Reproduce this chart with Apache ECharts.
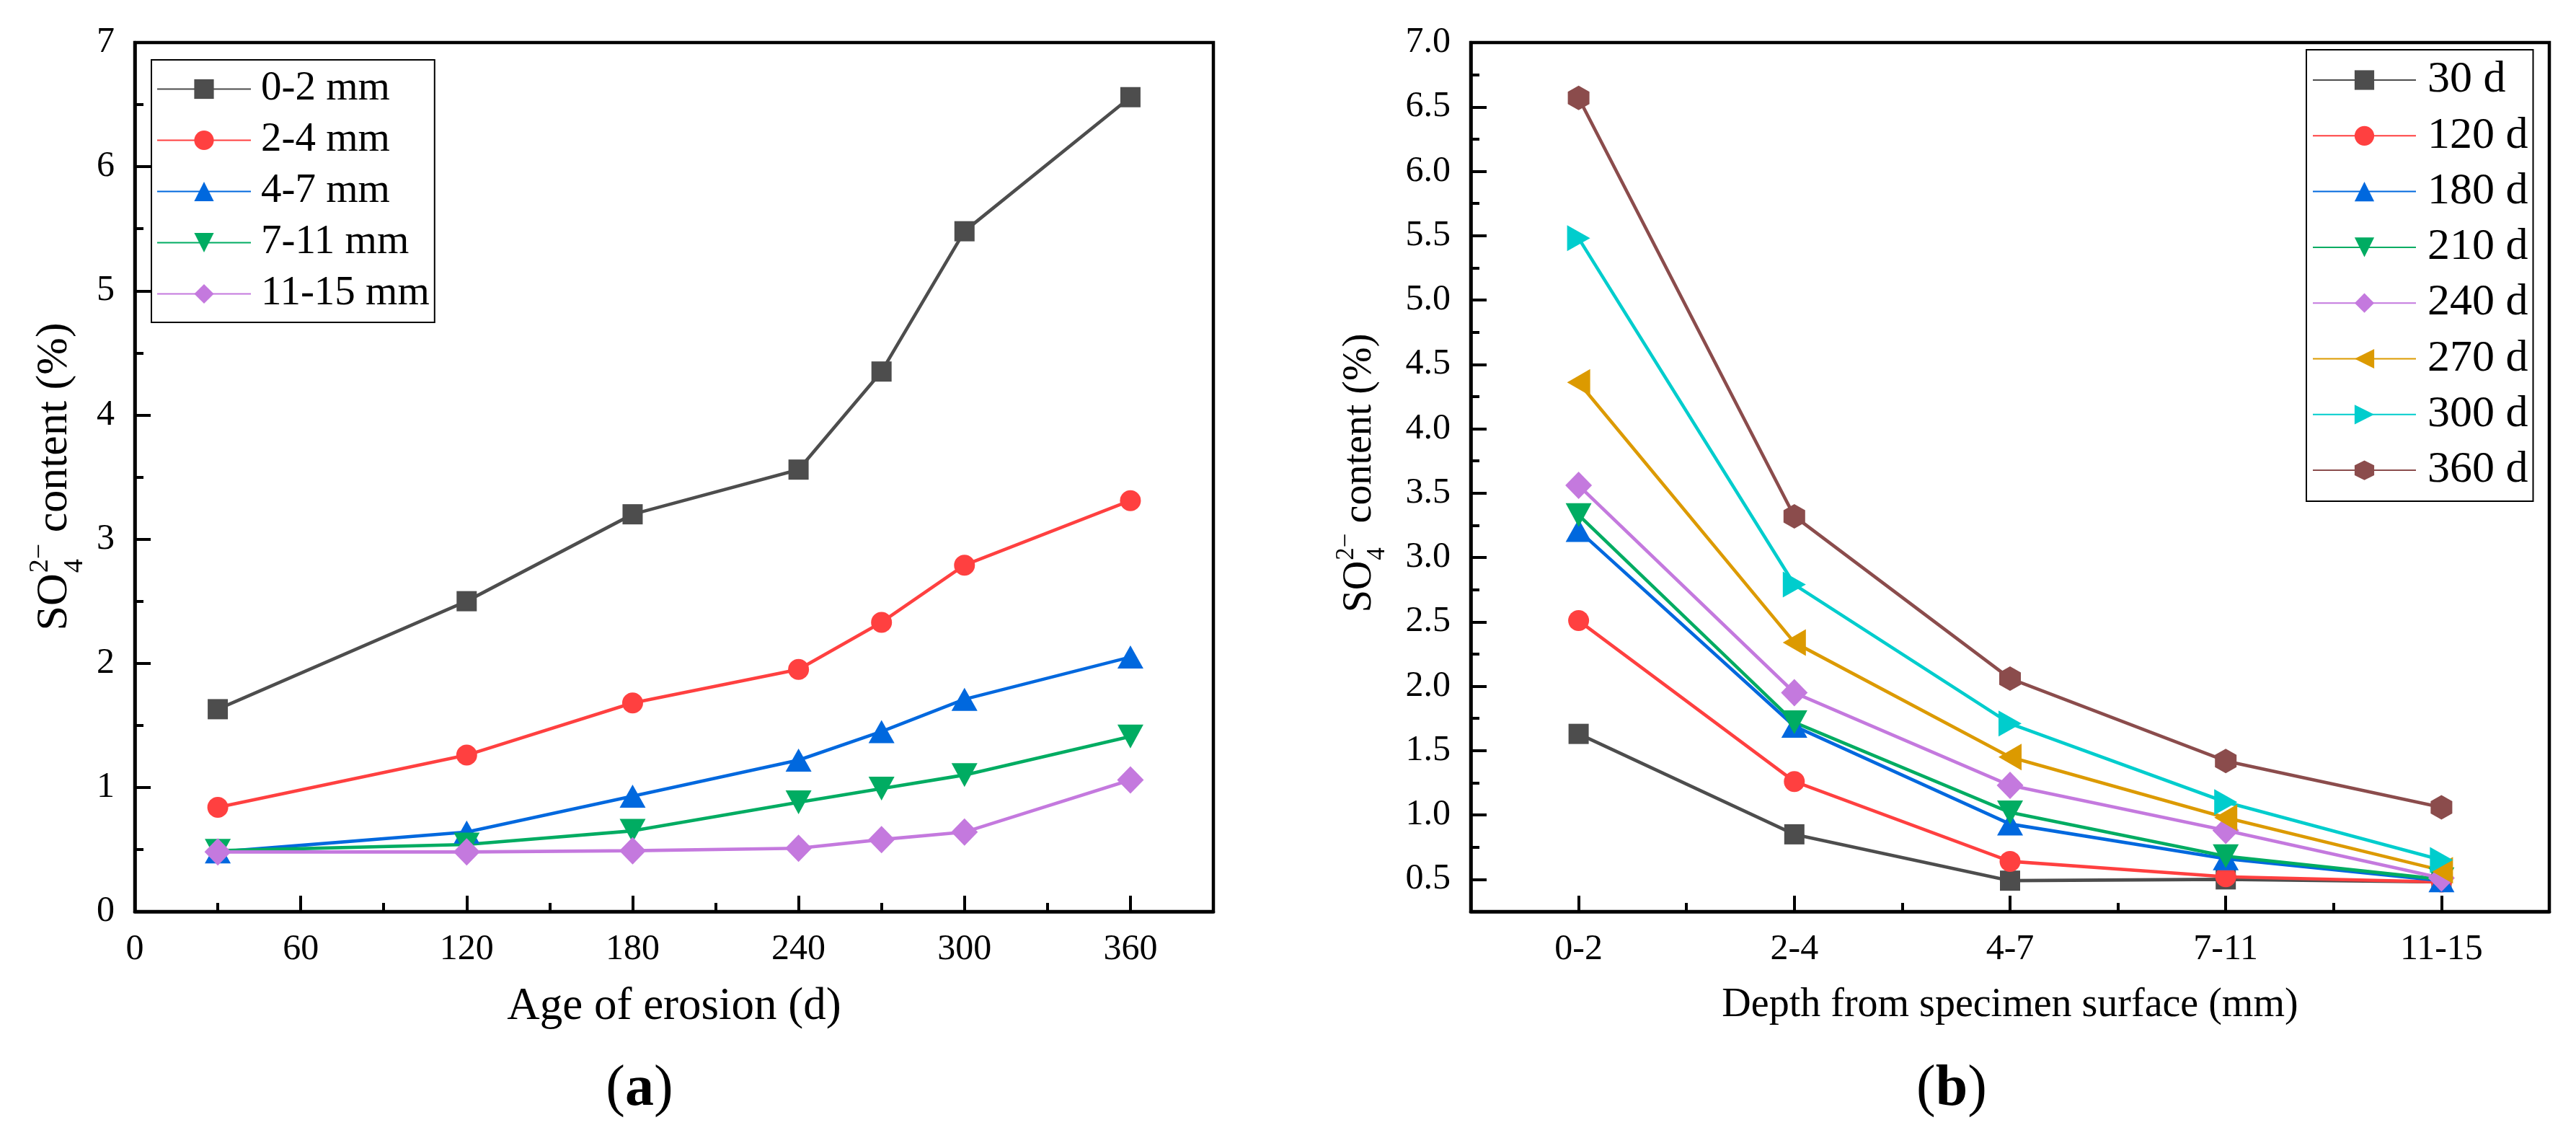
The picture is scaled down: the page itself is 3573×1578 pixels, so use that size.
<!DOCTYPE html>
<html>
<head>
<meta charset="utf-8">
<script src="https://cdn.jsdelivr.net/npm/echarts@6/dist/echarts.min.js"></script>
<style>
  html, body { margin: 0; padding: 0; background: #fff; }
  #chart { width: 3573px; height: 1578px; }
</style>
</head>
<body>
<div id="chart"></div>
<script>
// ---------- Data: panel (a) ----------
const ageDays = [30, 120, 180, 240, 270, 300, 360];
const depthNames = ['0-2 mm', '2-4 mm', '4-7 mm', '7-11 mm', '11-15 mm'];
const depth0_2 = [1.63, 2.50, 3.20, 3.56, 4.35, 5.48, 6.56];
const depth2_4 = [0.84, 1.26, 1.68, 1.95, 2.33, 2.79, 3.31];
const depth4_7 = [0.48, 0.64, 0.93, 1.22, 1.45, 1.71, 2.05];
const depth7_11 = [0.49, 0.54, 0.65, 0.88, 0.99, 1.10, 1.41];
const depth11_15 = [0.48, 0.48, 0.49, 0.51, 0.58, 0.64, 1.06];
const ageTickLabels = [0, 60, 120, 180, 240, 300, 360];

// ---------- Data: panel (b) ----------
const depthCats = ['0-2', '2-4', '4-7', '7-11', '11-15'];
const dayNames = ['30 d', '120 d', '180 d', '210 d', '240 d', '270 d', '300 d', '360 d'];
const day30 = [1.63, 0.85, 0.49, 0.50, 0.48];
const day120 = [2.51, 1.26, 0.64, 0.52, 0.48];
const day180 = [3.21, 1.69, 0.93, 0.66, 0.49];
const day210 = [3.33, 1.72, 1.02, 0.68, 0.50];
const day240 = [3.56, 1.95, 1.23, 0.88, 0.51];
const day270 = [4.36, 2.34, 1.45, 0.98, 0.57];
const day300 = [5.48, 2.79, 1.71, 1.10, 0.65];
const day360 = [6.57, 3.32, 2.06, 1.42, 1.06];
const contentTicksB = [0.5, 1.0, 1.5, 2.0, 2.5, 3.0, 3.5, 4.0, 4.5, 5.0, 5.5, 6.0, 6.5, 7.0];

// ---------- Styles ----------
const FONT = '"Liberation Serif", "Times New Roman", serif';
const COLORS = ['#4d4d4d', '#ff4040', '#0068de', '#00ac62', '#c479de', '#dc9a00', '#00cdcd', '#8b4c4c'];
const SYMBOLS = [
  { s: 'rect', size: 28 },
  { s: 'circle', size: 29 },
  { s: 'triangle', size: [36, 32] },
  { s: 'path://M0,0L10,0L5,10Z', size: [36, 33] },
  { s: 'diamond', size: [37, 38] },
  { s: 'path://M0,5L10,0L10,10Z', size: [32, 37] },
  { s: 'path://M10,5L0,0L0,10Z', size: [32, 36] },
  { s: 'path://M5,0L9.33,2.5L9.33,7.5L5,10L0.67,7.5L0.67,2.5Z', size: [30, 34] }
];
const AX = '#000';
const LW = 4.6;

const gridA = { left: 187, top: 59, width: 1496, height: 1205 };
const gridB = { left: 2040, top: 59, width: 1496, height: 1205 };

function lineSeries(name, data, i, xi, yi) {
  return {
    type: 'line', name: name, data: data,
    xAxisIndex: xi, yAxisIndex: yi,
    symbol: SYMBOLS[i].s, symbolSize: SYMBOLS[i].size,
    showAllSymbol: true,
    lineStyle: { color: COLORS[i], width: LW },
    itemStyle: { color: COLORS[i] },
    emphasis: { disabled: true },
    animation: false
  };
}

const seriesA = [depth0_2, depth2_4, depth4_7, depth7_11, depth11_15].map((vals, i) =>
  lineSeries(depthNames[i], ageDays.map((d, k) => [d, vals[k]]), i, 0, 0));
const seriesB = [day30, day120, day180, day210, day240, day270, day300, day360].map((vals, i) =>
  lineSeries(dayNames[i], vals, i, 2, 1));

// ---------- Y-axis titles (SO4 2- content (%)) built from text pieces ----------
const mctx = document.createElement('canvas').getContext('2d');
function tw(t, size) { mctx.font = size + 'px ' + FONT; return mctx.measureText(t).width; }
function yTitle(cx, cy, F, f, subOff, supOff) {
  const wSO = tw('SO', F);
  const xs = wSO + 1;
  const wss = Math.max(tw('4', f), tw('2\u2212', f));
  const xr = xs + wss;
  const rest = ' content (%)';
  const total = xr + tw(rest, F);
  const base = { fill: '#000', fontFamily: FONT, verticalAlign: 'middle', align: 'left' };
  return {
    type: 'group', x: cx, y: cy + total / 2, rotation: Math.PI / 2, silent: true,
    children: [
      { type: 'text', x: 0, y: 0, style: Object.assign({ text: 'SO', fontSize: F }, base) },
      { type: 'text', x: xs, y: subOff, style: Object.assign({ text: '4', fontSize: f }, base) },
      { type: 'text', x: xs, y: supOff, style: Object.assign({ text: '2\u2212', fontSize: f }, base) },
      { type: 'text', x: xr, y: 0, style: Object.assign({ text: rest, fontSize: F }, base) }
    ]
  };
}
function panelLabel(cx, cy, letter) {
  return {
    type: 'text', x: cx, y: cy, silent: true,
    style: {
      text: '{p|(}{b|' + letter + '}{p|)}',
      align: 'center', verticalAlign: 'middle',
      rich: {
        p: { fontFamily: FONT, fontSize: 80, fill: '#000', color: '#000' },
        b: { fontFamily: FONT, fontSize: 80, fontWeight: 'bold', fill: '#000', color: '#000' }
      }
    }
  };
}

const tickLabel = { fontFamily: FONT, fontSize: 50, color: '#000' };

const option = {
  backgroundColor: '#fff',
  animation: false,
  textStyle: { fontFamily: FONT, color: '#000' },
  grid: [
    Object.assign({ show: true, borderColor: AX, borderWidth: 4.5, backgroundColor: 'transparent' }, gridA),
    Object.assign({ show: true, borderColor: AX, borderWidth: 4.5, backgroundColor: 'transparent' }, gridB)
  ],
  xAxis: [
    { // (a) main
      type: 'value', gridIndex: 0, position: 'bottom', min: 0, max: 390, interval: 60,
      axisLine: { show: true, onZero: false, lineStyle: { color: AX, width: 4.5 } },
      axisTick: { show: true, inside: true, length: 22, lineStyle: { color: AX, width: 4 } },
      axisLabel: Object.assign({ margin: 28, formatter: v => (ageTickLabels.indexOf(v) >= 0 ? String(v) : '') }, tickLabel),
      splitLine: { show: false },
      name: 'Age of erosion (d)', nameLocation: 'middle', nameGap: 101,
      nameTextStyle: { fontFamily: FONT, fontSize: 63, color: '#000' }
    },
    { // (a) minor ticks
      type: 'value', gridIndex: 0, position: 'bottom', min: 0, max: 390, interval: 30,
      axisLine: { show: false, onZero: false },
      axisTick: { show: true, inside: true, length: 12, lineStyle: { color: AX, width: 4 } },
      axisLabel: { show: false }, splitLine: { show: false }
    },
    { // (b) main
      type: 'category', gridIndex: 1, position: 'bottom', data: depthCats, boundaryGap: true,
      axisLine: { show: true, onZero: false, lineStyle: { color: AX, width: 4.5 } },
      axisTick: { show: true, inside: true, alignWithLabel: true, length: 22, lineStyle: { color: AX, width: 4 } },
      axisLabel: Object.assign({ margin: 28, interval: 0 }, tickLabel),
      splitLine: { show: false },
      name: 'Depth from specimen surface (mm)', nameLocation: 'middle', nameGap: 102,
      nameTextStyle: { fontFamily: FONT, fontSize: 56, color: '#000' }
    },
    { // (b) minor ticks between categories
      type: 'category', gridIndex: 1, position: 'bottom', data: depthCats, boundaryGap: true,
      axisLine: { show: false, onZero: false },
      axisTick: { show: true, inside: true, alignWithLabel: false, interval: 0, length: 12, lineStyle: { color: AX, width: 4 } },
      axisLabel: { show: false }, splitLine: { show: false }
    }
  ],
  yAxis: [
    { // (a)
      type: 'value', gridIndex: 0, position: 'left', min: 0, max: 7, interval: 1,
      axisLine: { show: true, onZero: false, lineStyle: { color: AX, width: 4.5 } },
      axisTick: { show: true, inside: true, length: 22, lineStyle: { color: AX, width: 4 } },
      minorTick: { show: true, splitNumber: 2, length: 12, lineStyle: { color: AX, width: 4 } },
      axisLabel: Object.assign({ margin: 28 }, tickLabel),
      splitLine: { show: false }, minorSplitLine: { show: false }
    },
    { // (b) main: short ticks every 0.25, labels on 0.5 steps
      type: 'value', gridIndex: 1, position: 'left', min: 0.25, max: 7, interval: 0.25,
      axisLine: { show: true, onZero: false, lineStyle: { color: AX, width: 4.5 } },
      axisTick: { show: true, inside: true, length: 12, lineStyle: { color: AX, width: 4 } },
      axisLabel: Object.assign({
        margin: 28, showMinLabel: true, showMaxLabel: true,
        formatter: v => {
          const r = Math.round(v * 10) / 10;
          return contentTicksB.some(t => Math.abs(t - v) < 1e-6) ? r.toFixed(1) : '';
        }
      }, tickLabel),
      splitLine: { show: false }
    },
    { // (b) major ticks
      type: 'value', gridIndex: 1, position: 'left', min: 0.25, max: 7,
      axisLine: { show: false, onZero: false },
      axisTick: { show: true, inside: true, length: 22, customValues: contentTicksB, lineStyle: { color: AX, width: 4 } },
      axisLabel: { show: false }, splitLine: { show: false }
    }
  ],
  legend: [
    {
      orient: 'vertical', left: 210, top: 83, data: depthNames,
      itemWidth: 130, itemHeight: 34, itemGap: 14,
      padding: [12, 7, 11, 7],
      backgroundColor: '#fff', borderColor: '#000', borderWidth: 2,
      selectedMode: false,
      textStyle: { fontFamily: FONT, fontSize: 57, lineHeight: 56, color: '#000', padding: [0, 0, 0, 9] }
    },
    {
      orient: 'vertical', left: 3199, top: 69, data: dayNames,
      itemWidth: 143, itemHeight: 34, itemGap: 15.3,
      padding: [11, 7, 12, 8],
      backgroundColor: '#fff', borderColor: '#000', borderWidth: 2,
      selectedMode: false,
      textStyle: { fontFamily: FONT, fontSize: 62, lineHeight: 62, color: '#000', padding: [0, 0, 0, 11] }
    }
  ],
  graphic: [
    yTitle(76, 661, 62, 38, 28, -20),
    yTitle(1886, 656, 56, 35, 25, -18),
    panelLabel(887, 1511, 'a'),
    panelLabel(2707, 1511, 'b')
  ],
  series: seriesA.concat(seriesB)
};

const chart = echarts.init(document.getElementById('chart'), null, { renderer: 'canvas' });
chart.setOption(option);
</script>
</body>
</html>
